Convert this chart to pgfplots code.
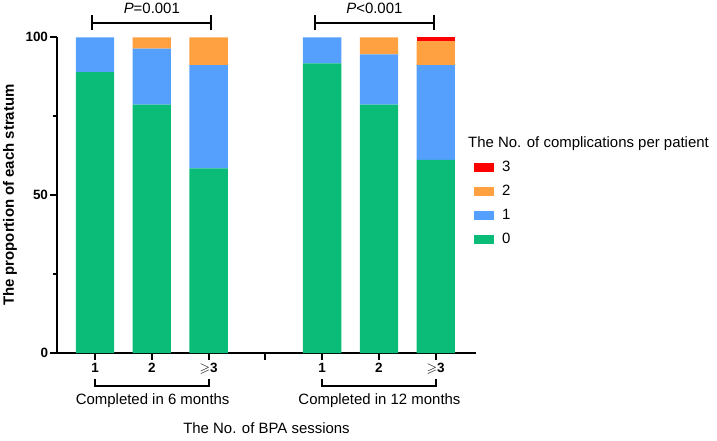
\documentclass[border=0pt]{standalone}
\usepackage{fontspec}
\setmainfont{Liberation Sans}
\usepackage{amsmath,amssymb}
\usepackage{pgfplots}
\pgfplotsset{compat=1.18}
\definecolor{cg}{RGB}{10,188,120}
\definecolor{cb}{RGB}{85,160,253}
\definecolor{co}{RGB}{255,160,65}
\definecolor{cr}{RGB}{255,0,0}
\begin{document}
\begin{tikzpicture}
\useasboundingbox (0,0) rectangle (717bp,441bp);
\begin{axis}[
  at={(57bp,88bp)}, anchor=south west,
  scale only axis, width=419bp, height=315.7bp,
  xmin=0.33, xmax=7.71, ymin=0, ymax=100,
  ybar stacked, bar width=0.675,
  axis x line=bottom, axis y line=left,
  axis line style={-, line width=2.2bp, black},
  tick align=outside, major tick length=7bp, minor tick length=4bp,
  tick style={line width=2bp, black},
  xtick={1,2,3,4,5,6,7},
  xticklabels={1,2,$\boldsymbol{\geqslant}$3,,1,2,$\boldsymbol{\geqslant}$3},
  ytick={0,50,100}, minor ytick={25,75},
  ticklabel style={font=\fontsize{13.5}{15}\selectfont\bfseries},
  yticklabel style={xshift=1.5bp},
  /pgf/number format/assume math mode=true,
  clip=false,
  legend style={draw=none, fill=none, at={(rel axis cs:0.988,0.62)}, anchor=north west,
    font=\fontsize{15}{18}\selectfont, row sep=8bp, legend cell align=left},
  reverse legend,
  mybar/.style={draw=none, legend image code/.code={\fill[##1] (0bp,-4.5bp) rectangle (20bp,4.5bp); \path (26bp,0bp);}},
]
\addplot[mybar, fill=cg] coordinates {(1,89.0) (2,78.7) (3,58.5) (5,91.7) (6,78.7) (7,61.2)};
\addlegendentry{0}
\addplot[mybar, fill=cb] coordinates {(1,11.0) (2,17.7) (3,32.7) (5,8.3) (6,15.9) (7,30.0)};
\addlegendentry{1}
\addplot[mybar, fill=co] coordinates {(1,0) (2,3.6) (3,8.8) (5,0) (6,5.4) (7,7.6)};
\addlegendentry{2}
\addplot[mybar, fill=cr] coordinates {(1,0) (2,0) (3,0) (5,0) (6,0) (7,1.2)};
\addlegendentry{3}

\node[anchor=west, inner sep=0pt, font=\fontsize{15}{18}\selectfont] at (rel axis cs:0.981,0.662) {The No. of complications per patient};

\draw[line width=2bp] (axis cs:0.95,107.1) -- (axis cs:0.95,102.3)
  (axis cs:0.95,104.5) -- (axis cs:3.05,104.5)
  (axis cs:3.05,107.1) -- (axis cs:3.05,102.3);
\draw[line width=2bp] (axis cs:4.87,107.1) -- (axis cs:4.87,102.3)
  (axis cs:4.87,104.5) -- (axis cs:6.97,104.5)
  (axis cs:6.97,107.1) -- (axis cs:6.97,102.3);
\node[font=\fontsize{15}{18}\selectfont] at (axis cs:2.0,109.2) {\textit{P}=0.001};
\node[font=\fontsize{15}{18}\selectfont] at (axis cs:5.92,109.2) {\textit{P}<0.001};

\draw[line width=2bp] (axis cs:1,-8.1) -- (axis cs:1,-10.4) -- (axis cs:3,-10.4) -- (axis cs:3,-8.1);
\draw[line width=2bp] (axis cs:5,-8.1) -- (axis cs:5,-10.4) -- (axis cs:7,-10.4) -- (axis cs:7,-8.1);
\node[font=\fontsize{15}{18}\selectfont] at (axis cs:2.015,-15.1) {Completed in 6 months};
\node[font=\fontsize{15}{18}\selectfont] at (axis cs:6.01,-15.1) {Completed in 12 months};
\node[font=\fontsize{15}{18}\selectfont] at (axis cs:4.02,-23.8) {The No. of BPA sessions};
\node[rotate=90, font=\fontsize{15}{18}\selectfont\bfseries] at ([xshift=-47bp]rel axis cs:0,0.5) {The proportion of each stratum};
\end{axis}
\end{tikzpicture}
\end{document}
